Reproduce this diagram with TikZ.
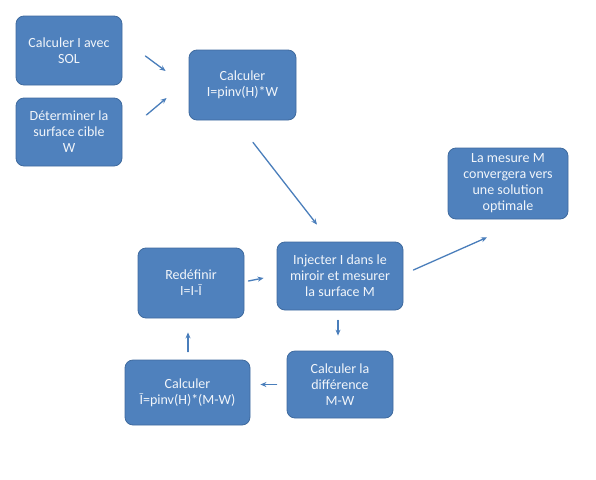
\documentclass[tikz,border=0pt]{standalone}
\usepackage{fontspec}
\setmainfont{Carlito}
\usetikzlibrary{arrows.meta,positioning}

\definecolor{boxblue}{HTML}{4F81BD}
\definecolor{boxedge}{HTML}{3F6A9E}
\definecolor{arrblue}{HTML}{4A7EBB}

\begin{document}
\begin{tikzpicture}[
        >=Stealth, line join=round, line cap=round,
        x=1pt, y=-1pt,
        font=\fontsize{14}{16}\selectfont,
        stepbox/.style={draw=boxedge, line width=0.8pt, fill=boxblue, rounded corners=8pt,
            text=white!92!boxblue, align=center, inner sep=2pt},
        arr/.style={->, draw=arrblue, line width=1.3pt, >={Stealth[length=6pt,width=5pt]}}
      ]
      \useasboundingbox (0,0) rectangle (596,479);

      % ---- top: starting point ----
      \node[stepbox, minimum width=106pt, minimum height=69pt] (sol) at (69,50.5) {Calculer I avec\\SOL};
      \node[stepbox, minimum width=106pt, minimum height=68pt] (cible) at (69,132) {Déterminer la\\surface cible\\W};
      \node[stepbox, minimum width=107pt, minimum height=70pt] (calc) at (242.5,85) {Calculer\\I=pinv(H)*W};

      % ---- loop ----
      \node[stepbox, minimum width=126pt, minimum height=68pt] (inj) at (340,276) {Injecter I dans le\\miroir et mesurer\\la surface M};
      \node[stepbox, minimum width=106pt, minimum height=67pt] (diff) at (340,384.5) {Calculer la\\différence\\M-W};
      \node[stepbox, minimum width=125pt, minimum height=65pt] (ibar) at (187.5,392.5) {Calculer\\Ī=pinv(H)*(M-W)};
      \node[stepbox, minimum width=106pt, minimum height=70pt] (redef) at (191,283) {Redéfinir\\I=I-Ī};

      % ---- result ----
      \node[stepbox, minimum width=120pt, minimum height=71pt] (conv) at (508,183.5) {La mesure M\\convergera vers\\une solution\\optimale};

      % short arrows, kept off the boxes
      \draw[arr] ([shift={(23,5.5)}]sol.east) -- ([shift={(-23,-14)}]calc.west);
      \draw[arr] ([shift={(24,-17)}]cible.east) -- ([shift={(-22,13)}]calc.west);
      \draw[arr] ([shift={(10.5,22)}]calc.south) -- ([shift={(-23,-17)}]inj.north);
      \draw[arr] ([shift={(10,-6)}]inj.east) -- ([shift={(-21,18)}]conv.south);
      \draw[arr] ([shift={(-2,10)}]inj.south) -- ([shift={(-2,-15)}]diff.north);
      \draw[arr] ([shift={(-10,0)}]diff.west) -- ([shift={(10,-8)}]ibar.east);
      \draw[arr] ([shift={(0.5,-8)}]ibar.north) -- ([shift={(-3,14)}]redef.south);
      \draw[arr] ([shift={(4,-2)}]redef.east) -- ([shift={(-13,2)}]inj.west);

    \end{tikzpicture}
\end{document}
